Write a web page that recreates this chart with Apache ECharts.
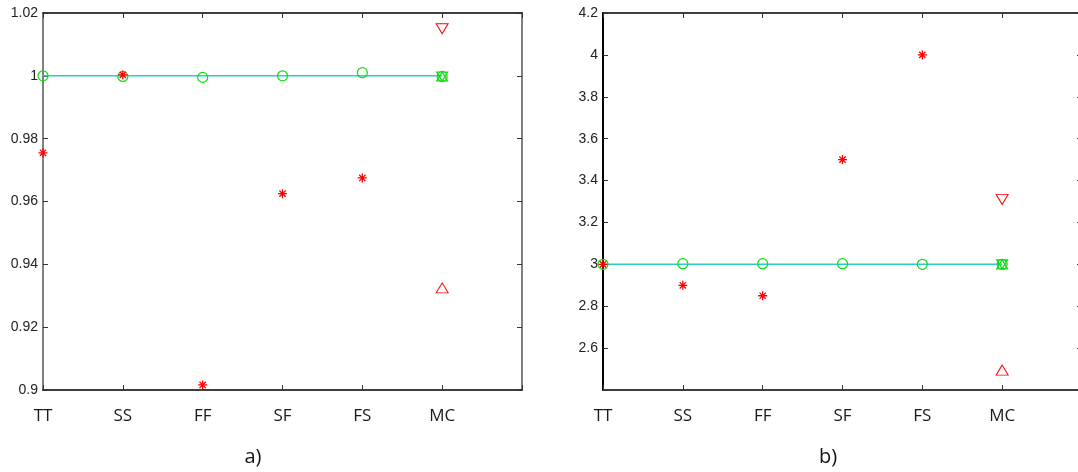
<!DOCTYPE html>
<html>
<head>
<meta charset="utf-8">
<script src="https://cdn.jsdelivr.net/npm/echarts@6/dist/echarts.min.js"></script>
<style>
html, body { margin: 0; background: #fff; }
#main { width: 1078px; height: 472px; }
</style>
</head>
<body>
<div id="main"></div>
<script>
// categories (last one is the empty slot at the right edge of the box)
var categories = ['TT', 'SS', 'FF', 'SF', 'FS', 'MC', ''];

// panel a)
var yTicksA = [0.9, 0.92, 0.94, 0.96, 0.98, 1, 1.02];
var starA = [0.9755, 1.0003, 0.9016, 0.9625, 0.9675, null, null];
var circleA = [1.0, 0.9998, 0.9995, 1.0, 1.001, 0.9998, null];
var lineA = [1, 1, 1, 1, 1, 1, null];
var redDownA = [null, null, null, null, null, 1.015, null];
var redUpA = [null, null, null, null, null, 0.9325, null];
var greenTriA = [null, null, null, null, null, 0.9998, null];

// panel b)
var yTicksB = [2.4, 2.6, 2.8, 3, 3.2, 3.4, 3.6, 3.8, 4, 4.2];
var yLabelsB = ['', '2.6', '2.8', '3', '3.2', '3.4', '3.6', '3.8', '4', '4.2'];
var starB = [3.0, 2.9, 2.85, 3.5, 4.0, null, null];
var circleB = [3.0, 3.003, 3.003, 3.003, 3.0, 3.0, null];
var lineB = [3, 3, 3, 3, 3, 3, null];
var redDownB = [null, null, null, null, null, 3.31, null];
var redUpB = [null, null, null, null, null, 2.495, null];
var greenTriB = [null, null, null, null, null, 3.0, null];

var RED = '#ff0000', GREEN = '#11dd11', CYAN = '#2ccccc';
var starPath = 'path://M4 0V8M0 4H8M1.2 1.2L6.8 6.8M1.2 6.8L6.8 1.2';
var downTri = 'path://M0 0L10 0L5 8.66Z';
var upTri = 'path://M5 0L10 8.66L0 8.66Z';

var chart = echarts.init(document.getElementById('main'));

var grids = [], xAxes = [], yAxes = [], series = [];

function panel(idx, left, width, ticks, labels, leftColor, rightColor, d) {
  grids.push({ left: left, top: 13, width: width, height: 377, outerBoundsMode: 'none' });
  var tickStyle = { show: true, inside: true, length: 5, lineStyle: { color: '#333', width: 1 } };
  xAxes.push({
    type: 'category', gridIndex: idx, position: 'bottom', data: categories, boundaryGap: false,
    axisLine: { lineStyle: { color: '#000', width: 1.5 } },
    axisTick: tickStyle,
    axisLabel: { margin: 18, fontFamily: 'Open Sans', fontSize: 17, color: '#1a1a1a', interval: 0 },
    splitLine: { show: false }
  });
  xAxes.push({
    type: 'category', gridIndex: idx, position: 'top', data: categories, boundaryGap: false,
    axisLine: { lineStyle: { color: '#000', width: 1.5 } },
    axisTick: tickStyle,
    axisLabel: { show: false }, splitLine: { show: false }
  });
  var yMin = ticks[0], yMax = ticks[ticks.length - 1];
  var step = +(ticks[1] - ticks[0]).toFixed(4);
  yAxes.push({
    type: 'value', gridIndex: idx, position: 'left', min: yMin, max: yMax, interval: step,
    axisLine: { show: true, lineStyle: { color: leftColor, width: 2 } },
    axisTick: tickStyle,
    axisLabel: {
      margin: 5, fontFamily: 'Liberation Sans', fontSize: 14, color: '#222',
      formatter: function (v) {
        for (var i = 0; i < ticks.length; i++) {
          if (Math.abs(ticks[i] - v) < 1e-6) return labels ? labels[i] : String(ticks[i]);
        }
        return '';
      }
    },
    splitLine: { show: false }
  });
  yAxes.push({
    type: 'value', gridIndex: idx, position: 'right', min: yMin, max: yMax, interval: step,
    axisLine: { show: true, lineStyle: { color: rightColor, width: 2 } },
    axisTick: tickStyle, axisLabel: { show: false }, splitLine: { show: false }
  });
  var xi = idx * 2, yi = idx * 2;
  series.push({
    type: 'line', xAxisIndex: xi, yAxisIndex: yi, data: d.line, symbol: 'none', z: 1,
    lineStyle: { color: CYAN, width: 1.5 }, silent: true
  });
  function sc(data, symbol, size, color, bw) {
    series.push({
      type: 'scatter', xAxisIndex: xi, yAxisIndex: yi, data: data, symbol: symbol, symbolSize: size,
      clip: false, z: 3,
      itemStyle: { color: 'rgba(0,0,0,0)', borderColor: color, borderWidth: bw || 1, opacity: 1 }
    });
  }
  sc(d.circle, 'circle', 10, GREEN, 1.2);
  sc(d.greenTri, upTri, [11, 9], GREEN, 1.2);
  sc(d.greenTri, downTri, [11, 9], GREEN, 1.2);
  sc(d.star, starPath, 9, RED, 1.3);
  sc(d.redDown, downTri, [12, 10], RED);
  sc(d.redUp, upTri, [12, 10], RED);
}

panel(0, 43, 479, yTicksA, null, '#808080', '#808080',
  { line: lineA, circle: circleA, star: starA, redDown: redDownA, redUp: redUpA, greenTri: greenTriA });
panel(1, 603, 479, yTicksB, yLabelsB, '#000', '#000',
  { line: lineB, circle: circleB, star: starB, redDown: redDownB, redUp: redUpB, greenTri: greenTriB });

var option = {
  animation: false,
  backgroundColor: '#fff',
  title: [
    { text: 'a)', left: 248, top: 442, textAlign: 'center',
      textStyle: { fontFamily: 'Open Sans', fontSize: 20, fontWeight: 'normal', color: '#111' } },
    { text: 'b)', left: 823, top: 442, textAlign: 'center',
      textStyle: { fontFamily: 'Open Sans', fontSize: 20, fontWeight: 'normal', color: '#111' } }
  ],
  grid: grids,
  xAxis: xAxes,
  yAxis: yAxes,
  series: series
};

chart.setOption(option);
window.addEventListener('resize', chart.resize);
</script>
</body>
</html>
